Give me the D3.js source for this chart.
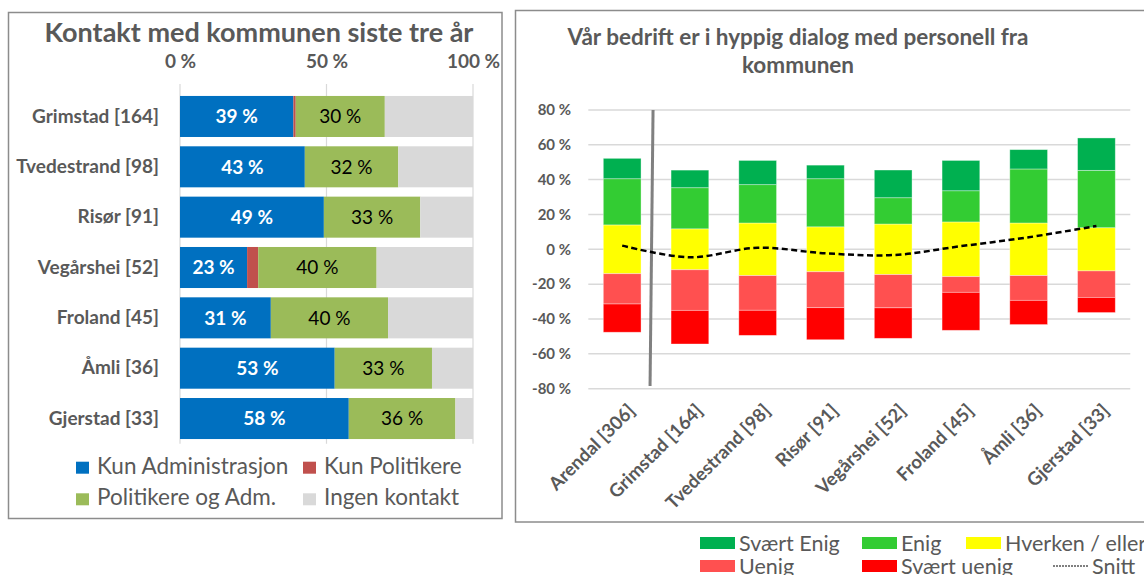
<!DOCTYPE html>
<html><head><meta charset="utf-8">
<script src="https://cdn.jsdelivr.net/npm/d3@7"></script>
<style>
body{margin:0;background:#fff}
svg{display:block}
text{font-family:Lato,"Open Sans",sans-serif}
</style>
</head><body>
<svg id="chart" width="1144" height="575"></svg>
<script>
// ---------- Left chart data ----------
const leftCategories = ["Grimstad [164]", "Tvedestrand [98]", "Risør [91]", "Vegårshei [52]", "Froland [45]", "Åmli [36]", "Gjerstad [33]"];
const kunAdministrasjon = [38.7, 42.6, 49.1, 22.9, 31.0, 52.8, 57.6];
const kunPolitikere     = [0.8, 0, 0, 3.8, 0, 0, 0];
const politikereOgAdm   = [30.4, 31.9, 32.9, 40.4, 40.0, 33.2, 36.4];
const leftTicks = [0, 50, 100];
const leftSeries = ["Kun Administrasjon", "Kun Politikere", "Politikere og Adm.", "Ingen kontakt"];
const leftTitle = "Kontakt med kommunen siste tre år";

// ---------- Right chart data ----------
const rightCategories = ["Arendal [306]", "Grimstad [164]", "Tvedestrand [98]", "Risør [91]", "Vegårshei [52]", "Froland [45]", "Åmli [36]", "Gjerstad [33]"];
const svaertEnig  = [11.7, 10.1, 13.9, 7.8, 15.9, 17.4, 11.1, 18.6];
const enig        = [26.5, 23.6, 22.0, 27.6, 15.1, 17.9, 31.0, 32.9];
const hverken     = [28.0, 23.5, 30.2, 25.8, 29.0, 31.4, 30.2, 24.8];
const uenig       = [17.4, 23.3, 19.9, 20.6, 19.1, 9.0, 14.2, 15.2];
const svaertUenig = [16.2, 19.3, 14.4, 18.4, 17.5, 21.8, 13.9, 8.7];
const snitt       = [2.1, -4.6, 0.9, -2.3, -3.3, 1.8, 6.9, 13.4];
const rightTicks = [-80, -60, -40, -20, 0, 20, 40, 60, 80];
const rightSeries = ["Svært Enig", "Enig", "Hverken / eller", "Uenig", "Svært uenig", "Snitt"];
const rightTitle = ["Vår bedrift er i hyppig dialog med personell fra", "kommunen"];

// ---------- styles ----------
const GREY = "#595959";
const leftColors = {"Kun Administrasjon":"#0070C0","Kun Politikere":"#C0504D","Politikere og Adm.":"#9BBB59","Ingen kontakt":"#D9D9D9"};
const rightColors = {"Svært Enig":"#00B050","Enig":"#33CC33","Hverken / eller":"#FFFF00","Uenig":"#FF5050","Svært uenig":"#FF0000"};

const svg = d3.select("#chart");

// ================= LEFT PANEL =================
svg.append("rect").attr("x",8.5).attr("y",12.5).attr("width",493.5).attr("height",506)
  .attr("fill","#fff").attr("stroke","#8c8c8c").attr("stroke-width",1.5);

svg.append("text").attr("x",259).attr("y",42).attr("text-anchor","middle")
  .attr("font-size",27).attr("font-weight","bold").attr("fill",GREY).text(leftTitle);

const xL = d3.scaleLinear().domain([0,100]).range([180,473]);
const yL = d3.scaleBand().domain(leftCategories).range([91.3,443.7]).paddingInner(0.185).paddingOuter(0.0925);

// gridlines
svg.append("g").selectAll("line").data(leftTicks).join("line")
  .attr("x1",d=>xL(d)).attr("x2",d=>xL(d)).attr("y1",84).attr("y2",443.7)
  .attr("stroke","#d9d9d9").attr("stroke-width",1.2);

// top axis
const axTop = svg.append("g").attr("transform","translate(0,68)")
  .call(d3.axisTop(xL).tickValues(leftTicks).tickSize(0).tickPadding(0).tickFormat(d=>d+" %"));
axTop.select(".domain").remove();
axTop.selectAll("text").attr("font-size",19).attr("font-weight","bold").attr("fill",GREY).attr("font-family","Lato");

const leftRows = leftCategories.map((c,i)=>({
  cat:c,
  "Kun Administrasjon":kunAdministrasjon[i],
  "Kun Politikere":kunPolitikere[i],
  "Politikere og Adm.":politikereOgAdm[i],
  "Ingen kontakt":100-kunAdministrasjon[i]-kunPolitikere[i]-politikereOgAdm[i]
}));
const leftStack = d3.stack().keys(leftSeries)(leftRows);

svg.append("g").selectAll("g").data(leftStack).join("g")
  .attr("fill",d=>leftColors[d.key])
  .selectAll("rect").data(d=>d).join("rect")
  .attr("x",d=>xL(d[0])).attr("width",d=>xL(d[1])-xL(d[0]))
  .attr("y",d=>yL(d.data.cat)).attr("height",yL.bandwidth());

// value labels
const lblG = svg.append("g").attr("font-size",19);
leftStack.forEach(s=>{
  if(s.key!=="Kun Administrasjon" && s.key!=="Politikere og Adm.") return;
  lblG.selectAll(null).data(s).join("text")
    .attr("x",d=>(xL(d[0])+xL(d[1]))/2)
    .attr("y",d=>yL(d.data.cat)+yL.bandwidth()/2)
    .attr("dy","0.36em").attr("text-anchor","middle")
    .attr("fill",s.key==="Kun Administrasjon"?"#fff":"#000")
    .attr("font-weight",s.key==="Kun Administrasjon"?"bold":"normal")
    .text(d=>Math.round(d[1]-d[0])+" %");
});

// category axis
const axL = svg.append("g").attr("transform","translate(159,0)")
  .call(d3.axisLeft(yL).tickSize(0).tickPadding(0));
axL.select(".domain").remove();
axL.selectAll("text").attr("font-size",19).attr("font-weight","bold").attr("fill",GREY).attr("font-family","Lato");

// legend left
const legL = svg.append("g");
const legPos = [[76,461.7],[303,461.7],[76,493.3],[303,493.3]];
leftSeries.forEach((k,i)=>{
  const [x,y]=legPos[i];
  legL.append("rect").attr("x",x).attr("y",y).attr("width",13).attr("height",12).attr("fill",leftColors[k]);
  legL.append("text").attr("x",x+21).attr("y",y+12).attr("font-size",22.5).attr("fill",GREY).text(k);
});

// ================= RIGHT PANEL =================
svg.append("rect").attr("x",515.5).attr("y",10.5).attr("width",700).attr("height",511.5)
  .attr("fill","#fff").attr("stroke","#8c8c8c").attr("stroke-width",1.5);

svg.append("text").attr("x",798).attr("y",45).attr("text-anchor","middle")
  .attr("font-size",22.5).attr("font-weight","bold").attr("fill",GREY).text(rightTitle[0]);
svg.append("text").attr("x",798).attr("y",73).attr("text-anchor","middle")
  .attr("font-size",22.5).attr("font-weight","bold").attr("fill",GREY).text(rightTitle[1]);

const xR = d3.scaleBand().domain(rightCategories).range([588.3,1130.3]).paddingInner(0.443).paddingOuter(0.2215);
const yR = d3.scaleLinear().domain([-80,80]).range([388.7,109.9]);

svg.append("g").selectAll("line").data(rightTicks).join("line")
  .attr("x1",588.3).attr("x2",1130.3).attr("y1",d=>yR(d)).attr("y2",d=>yR(d))
  .attr("stroke","#d9d9d9").attr("stroke-width",1.5);

const axR = svg.append("g").attr("transform","translate(571,0)")
  .call(d3.axisLeft(yR).tickValues(rightTicks).tickSize(0).tickPadding(0).tickFormat(d=>d+" %"));
axR.select(".domain").remove();
axR.selectAll("text").attr("font-size",15).attr("font-weight","bold").attr("fill",GREY).attr("font-family","Lato");

// diverging stacks
const rightRows = rightCategories.map((c,i)=>{
  const h = hverken[i]/2;
  return [
    {cat:c,key:"Hverken / eller",y0:-h,y1:h},
    {cat:c,key:"Enig",y0:h,y1:h+enig[i]},
    {cat:c,key:"Svært Enig",y0:h+enig[i],y1:h+enig[i]+svaertEnig[i]},
    {cat:c,key:"Uenig",y0:-h-uenig[i],y1:-h},
    {cat:c,key:"Svært uenig",y0:-h-uenig[i]-svaertUenig[i],y1:-h-uenig[i]}
  ];
}).flat();

svg.append("g").selectAll("rect").data(rightRows).join("rect")
  .attr("x",d=>xR(d.cat)).attr("width",xR.bandwidth())
  .attr("y",d=>yR(d.y1)).attr("height",d=>yR(d.y0)-yR(d.y1))
  .attr("fill",d=>rightColors[d.key])
  .attr("stroke","rgba(255,255,255,0.45)").attr("stroke-width",0.8);

// vertical separator line
const sepX = xR(rightCategories[1]) - xR.step()*xR.paddingInner()/2;
svg.append("line").attr("x1",sepX-3).attr("x2",sepX-6).attr("y1",yR(80)).attr("y2",yR(-78.5))
  .attr("stroke","#808080").attr("stroke-width",3);

// snitt line
const line = d3.line().x((d,i)=>xR(rightCategories[i])+xR.bandwidth()/2).y(d=>yR(d)).curve(d3.curveCatmullRom.alpha(0.5));
svg.append("path").attr("d",line(snitt)).attr("fill","none").attr("stroke","#000")
  .attr("stroke-width",2.5).attr("stroke-dasharray","6,3.5");

// x axis rotated
const axB = svg.append("g").attr("transform","translate(0,398)")
  .call(d3.axisBottom(xR).tickSize(0).tickPadding(0));
axB.select(".domain").remove();
axB.selectAll("text").attr("font-size",18.5).attr("font-weight","bold").attr("fill",GREY).attr("font-family","Lato")
  .attr("text-anchor","end").attr("y",0).attr("dy",0)
  .attr("transform","translate(14,14) rotate(-45)");

// bottom legend
const legR = svg.append("g");
const legRPos = [[700,537],[862,537],[966,537],[700,560],[862,560],[1053,560]];
rightSeries.forEach((k,i)=>{
  const [x,y]=legRPos[i];
  if(k==="Snitt"){
    legR.append("line").attr("x1",x).attr("x2",x+35).attr("y1",y+6).attr("y2",y+6)
      .attr("stroke","#000").attr("stroke-width",1).attr("stroke-dasharray","2,1");
  } else {
    legR.append("rect").attr("x",x).attr("y",y).attr("width",35).attr("height",12).attr("fill",rightColors[k]);
  }
  legR.append("text").attr("x",x+39).attr("y",y+13.5).attr("font-size",21.5).attr("fill",GREY).text(k);
});
</script>
</body></html>
